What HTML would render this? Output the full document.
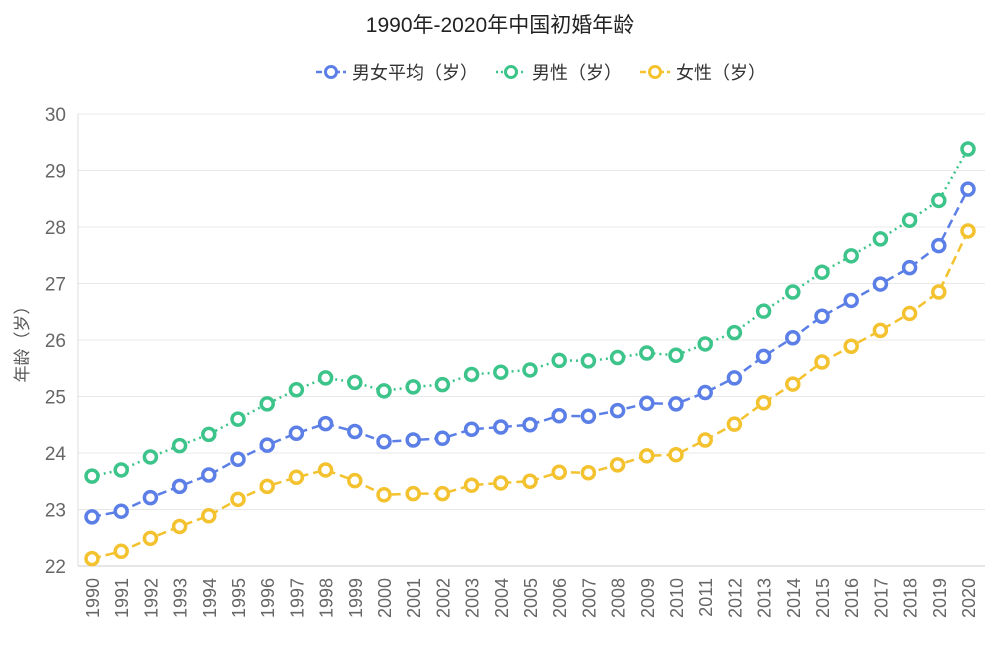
<!DOCTYPE html>
<html><head><meta charset="utf-8"><style>
body{margin:0;background:#fff;width:1000px;height:647px;overflow:hidden;font-family:"Liberation Sans","Noto Sans CJK SC",sans-serif}
</style></head><body>
<svg id="chart" width="1000" height="647" xmlns="http://www.w3.org/2000/svg" font-family="Liberation Sans, Noto Sans CJK SC, sans-serif">
<text x="500" y="32" text-anchor="middle" font-size="21" fill="#222">1990年-2020年中国初婚年龄</text>
<g id="legend"></g>
<text transform="translate(28,340) rotate(-90)" text-anchor="middle" font-size="17" fill="#555">年龄（岁）</text>
<g id="grid"></g><g id="axes"></g><g id="series"></g>
</svg>
<script>
const years=[];for(let y=1990;y<=2020;y++)years.push(y);
const avgAge=[22.87,22.97,23.21,23.41,23.61,23.89,24.14,24.35,24.52,24.38,24.2,24.23,24.26,24.42,24.46,24.5,24.66,24.65,24.75,24.88,24.87,25.07,25.33,25.71,26.04,26.42,26.7,26.99,27.28,27.67,28.67];
const maleAge=[23.59,23.7,23.93,24.13,24.33,24.6,24.87,25.12,25.33,25.25,25.1,25.17,25.21,25.39,25.43,25.47,25.64,25.63,25.69,25.77,25.73,25.93,26.13,26.51,26.85,27.2,27.49,27.79,28.12,28.47,29.38];
const femaleAge=[22.13,22.26,22.49,22.7,22.89,23.18,23.41,23.57,23.7,23.51,23.26,23.28,23.28,23.43,23.47,23.5,23.66,23.65,23.79,23.95,23.97,24.23,24.51,24.89,25.22,25.61,25.89,26.17,26.47,26.85,27.93];
const yTicks=[22,23,24,25,26,27,28,29,30];
const seriesNames=["男女平均（岁）","男性（岁）","女性（岁）"];
const NS="http://www.w3.org/2000/svg";
const L=78,R=985,T=114,B=566;
const x=i=>92+i*(968-92)/(years.length-1);
const y=v=>B-(v-22)/(30-22)*(B-T);
function mk(tag,at,parent){const e=document.createElementNS(NS,tag);for(const k in at)e.setAttribute(k,at[k]);parent.appendChild(e);return e;}
const grid=document.getElementById('grid'),axes=document.getElementById('axes'),ser=document.getElementById('series'),leg=document.getElementById('legend');
yTicks.forEach(t=>{
 const g=mk('line',{x1:L,x2:R,y1:y(t),y2:y(t),stroke:t===22?'#ccc':'#e8e8e8','stroke-width':1},grid);
 
 
 const tx=mk('text',{x:66,y:y(t)+7,'text-anchor':'end','font-size':19,fill:'#666'},axes);tx.textContent=t;
 
 
});
const ax=mk('line',{x1:L,x2:L,y1:T,y2:B,stroke:'#ddd'},axes);


years.forEach((yr,i)=>{
 const tx=mk('text',{transform:`translate(${x(i)+7},578) rotate(-90)`,'text-anchor':'end','font-size':18,fill:'#666'},axes);tx.textContent=yr;
 
 
});
const defs=[[avgAge,'#5b7fe6','9,5'],[maleAge,'#3cc48a','2,4'],[femaleAge,'#f3c22e','9,5']];
defs.forEach(([d,c,dash],si)=>{
 const g=mk('g',{},ser);
 
 
 const p=mk('polyline',{points:d.map((v,i)=>x(i)+','+y(v)).join(' '),fill:'none',stroke:c,'stroke-width':2.5,'stroke-dasharray':dash},g);
 
 
 d.forEach((v,i)=>{
  const m=mk('circle',{cx:x(i),cy:y(v),r:6,fill:'#fff',stroke:c,'stroke-width':3.5},g);
  
  
 });
});
const lx=[316,496,640];
defs.forEach(([d,c,dash],si)=>{
 const g=mk('g',{},leg);
 
 
 mk('line',{x1:lx[si],x2:lx[si]+30,y1:72,y2:72,stroke:c,'stroke-width':2.5,'stroke-dasharray':si===1?'2,3':'6,3'},g);
 mk('circle',{cx:lx[si]+15,cy:72,r:5.5,fill:'#fff',stroke:c,'stroke-width':3},g);
 const t=mk('text',{x:lx[si]+36,y:79,'font-size':18,fill:'#333'},g);t.textContent=seriesNames[si];
});
</script>
</body></html>
